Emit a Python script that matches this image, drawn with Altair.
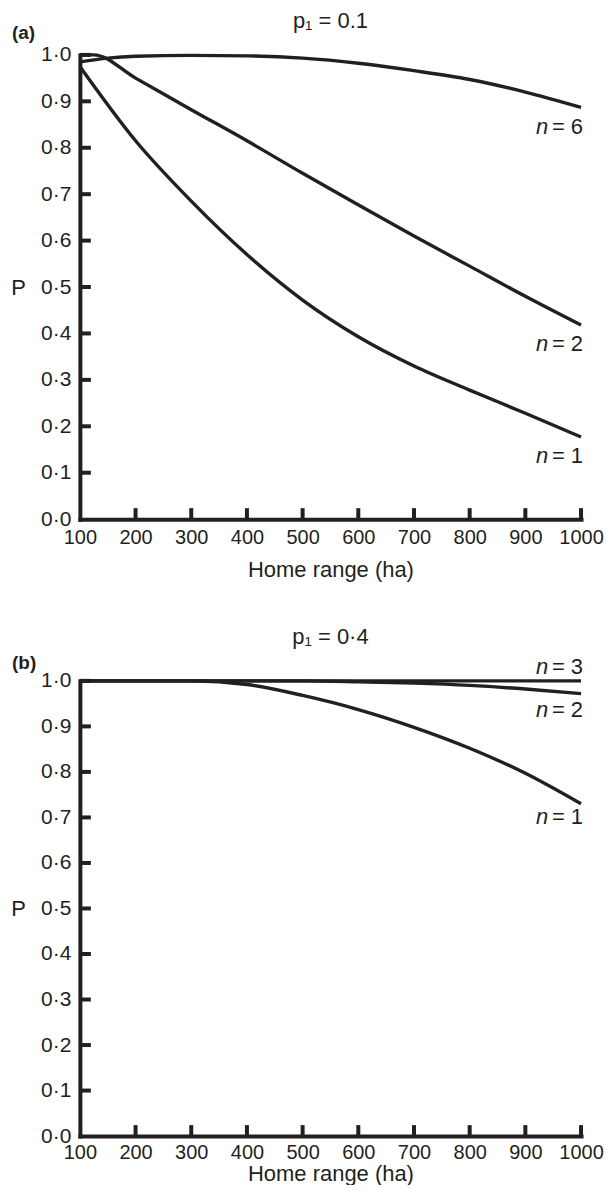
import altair as alt
import pandas as pd

FONT = "Liberation Sans"
INK = "#231f20"

# ---------------- data ----------------
x_ticks = [100, 200, 300, 400, 500, 600, 700, 800, 900, 1000]
y_ticks = [0.0, 0.1, 0.2, 0.3, 0.4, 0.5, 0.6, 0.7, 0.8, 0.9, 1.0]

# panel (a)  p1 = 0.1
a_n6_x = [100, 150, 200, 300, 400, 500, 600, 700, 800, 900, 1000]
a_n6_y = [0.985, 0.993, 0.997, 0.999, 0.998, 0.993, 0.982, 0.966, 0.947, 0.920, 0.887]
a_n2_x = [100, 125, 200, 300, 400, 500, 600, 700, 800, 900, 1000]
a_n2_y = [1.000, 1.000, 0.950, 0.882, 0.815, 0.745, 0.677, 0.610, 0.545, 0.480, 0.418]
a_n1_x = [100, 200, 300, 400, 500, 600, 700, 800, 900, 1000]
a_n1_y = [0.975, 0.815, 0.685, 0.570, 0.472, 0.393, 0.330, 0.278, 0.228, 0.177]

# panel (b)  p1 = 0.4
b_n3_x = [100, 400, 700, 1000]
b_n3_y = [1.000, 1.000, 1.000, 1.000]
b_n2_x = [100, 500, 600, 700, 800, 900, 1000]
b_n2_y = [1.000, 1.000, 0.998, 0.995, 0.990, 0.982, 0.972]
b_n1_x = [100, 300, 400, 500, 600, 700, 800, 900, 1000]
b_n1_y = [1.000, 1.000, 0.992, 0.968, 0.937, 0.898, 0.852, 0.797, 0.730]

a_labels = ["6", "2", "1"]
b_labels = ["3", "2", "1"]

a_title = "p\u2081 = 0.1"
b_title = "p\u2081 = 0\u00b74"


def series_df(pairs):
    rows = []
    for name, xs, ys in pairs:
        for x, y in zip(xs, ys):
            rows.append({"s": name, "x": x, "y": y})
    return pd.DataFrame(rows)


def panel(df, labels, label_dy, title, tag, height, title_y, tag_y, xlab_pad, xtitle_pad):
    W = 502
    xs = alt.Scale(domain=[100, 1000], nice=False, zero=False)
    ys = alt.Scale(domain=[0, 1], nice=False)
    xaxis = alt.Axis(values=x_ticks, ticks=False, grid=False, domainWidth=4,
                     domainColor=INK, domainCap="square", labelFont=FONT,
                     labelFontSize=20, labelColor=INK, labelPadding=xlab_pad,
                     labelFlush=False, labelOverlap=False,
                     labelExpr="format(datum.value, 'd')",
                     title="Home range (ha)", titleFont=FONT, titleFontSize=22,
                     titleFontWeight="normal", titleColor=INK, titlePadding=xtitle_pad)
    yaxis = alt.Axis(values=y_ticks, ticks=False, grid=False, domainWidth=4,
                     domainColor=INK, domainCap="square", labelFont=FONT,
                     labelFontSize=21, labelColor=INK, labelPadding=9,
                     labelFlush=False, labelOverlap=False,
                     labelExpr="replace(format(datum.value, '.1f'), '.', '\u00b7')",
                     title="P", titleFont=FONT, titleFontSize=22, titleAngle=0,
                     titleFontWeight="normal", titleColor=INK, titleX=-62,
                     titleY=height / 2, titleAlign="center", titleBaseline="middle")

    lines = alt.Chart(df).mark_line(color=INK, strokeWidth=3.4, interpolate="monotone").encode(
        x=alt.X("x:Q", scale=xs, axis=xaxis),
        y=alt.Y("y:Q", scale=ys, axis=yaxis),
        detail="s:N",
    )

    ytk = alt.Chart(pd.DataFrame({"v": y_ticks[1:]})).mark_rule(color=INK, strokeWidth=4).encode(
        y=alt.Y("v:Q", scale=ys), x=alt.value(0), x2=alt.value(11))
    xtk = alt.Chart(pd.DataFrame({"v": x_ticks[1:]})).mark_rule(color=INK, strokeWidth=4).encode(
        x=alt.X("v:Q", scale=xs), y=alt.value(height), y2=alt.value(height - 11))

    ends = df.groupby("s").last().reset_index()
    layers = [lines, ytk, xtk]
    for k in labels:
        row = ends[ends["s"] == "n" + k].copy()
        row["eq"] = "= " + k
        dy = label_dy[k]
        base = alt.Chart(row).encode(x=alt.X("x:Q", scale=xs), y=alt.Y("y:Q", scale=ys))
        layers.append(base.mark_text(font=FONT, fontSize=22, color=INK, align="right",
                                     baseline="middle", dx=2, dy=dy).encode(text="eq:N"))
        layers.append(base.mark_text(font=FONT, fontSize=22, color=INK, align="right",
                                     baseline="middle", fontStyle="italic", dx=-33,
                                     dy=dy).encode(text=alt.value("n")))

    ttl = alt.Chart(pd.DataFrame({"t": [title]})).mark_text(
        font=FONT, fontSize=22, color=INK, align="center", baseline="middle").encode(
        text="t:N", x=alt.value(W / 2), y=alt.value(title_y))
    tg = alt.Chart(pd.DataFrame({"t": [tag]})).mark_text(
        font=FONT, fontSize=19, fontWeight="bold", color=INK, align="left",
        baseline="middle").encode(text="t:N", x=alt.value(-68), y=alt.value(tag_y))
    layers += [ttl, tg]
    return alt.layer(*layers).properties(width=W, height=height)


dfa = series_df([("n6", a_n6_x, a_n6_y), ("n2", a_n2_x, a_n2_y), ("n1", a_n1_x, a_n1_y)])
dfb = series_df([("n3", b_n3_x, b_n3_y), ("n2", b_n2_x, b_n2_y), ("n1", b_n1_x, b_n1_y)])

pa = panel(dfa, a_labels, {"6": 20, "2": 19, "1": 19}, a_title, "(a)", 465, -34, -22, 8, 12)
pb = panel(dfb, b_labels, {"3": -14, "2": 16, "1": 13}, b_title, "(b)", 456, -44, -18, 6, 1)

chart = alt.vconcat(pa, pb, spacing=46).properties(
    padding={"left": 2, "top": 1, "right": 0, "bottom": 0}
).configure_view(stroke=None).resolve_scale(x="independent", y="independent")

chart.save("out.html", embed_options={"renderer": "svg", "actions": False})
